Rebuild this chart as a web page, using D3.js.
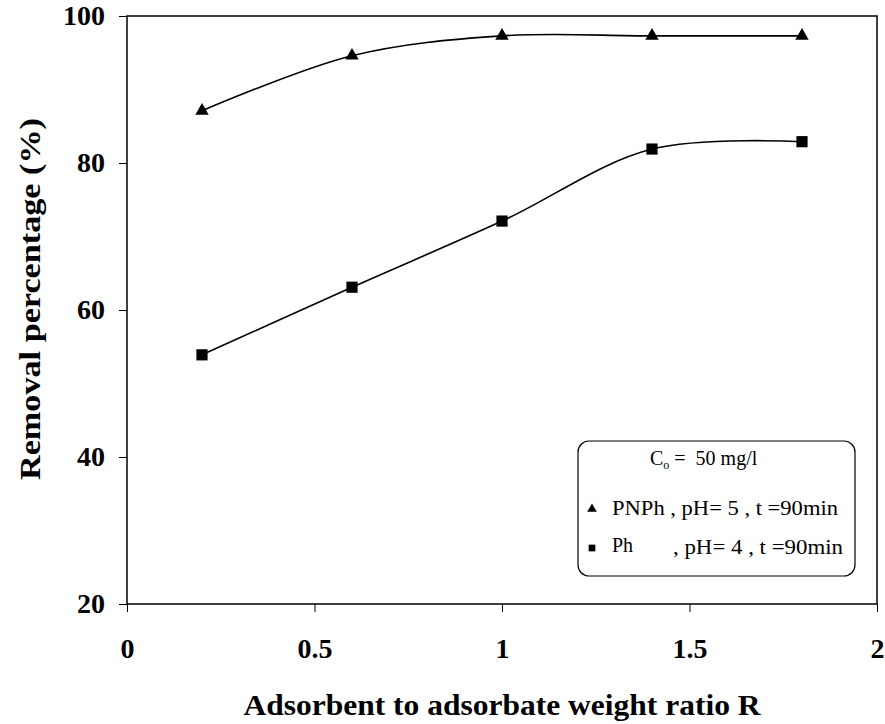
<!DOCTYPE html>
<html>
<head>
<meta charset="utf-8">
<script src="https://cdn.jsdelivr.net/npm/d3@7"></script>
<style>
  body { margin: 0; background: #fff; }
  svg text { font-family: "Liberation Serif", "Times New Roman", Tinos, "DejaVu Serif", serif; }
</style>
</head>
<body>
<div id="plot"></div>
<script>
// data
var ratio = [0.2, 0.6, 1.0, 1.4, 1.8];
var pnph = [87.1, 94.6, 97.3, 97.3, 97.3];
var ph = [53.9, 63.1, 72.1, 81.9, 82.9];
var xTicks = [0, 0.5, 1, 1.5, 2];
var yTicks = [20, 40, 60, 80, 100];

var serif = '"Liberation Serif", "Times New Roman", Tinos, "DejaVu Serif", serif';

var margin = {top: 16, right: 8, bottom: 120, left: 127},
    width = 885 - margin.left - margin.right,
    height = 724 - margin.top - margin.bottom;

var svg = d3.select("div#plot")
  .append("svg")
    .attr("width", 885)
    .attr("height", 724)
  .append("g")
    .attr("transform", "translate(" + margin.left + "," + margin.top + ")");

var x = d3.scaleLinear().domain([0, 2]).range([0, 750]);
var y = d3.scaleLinear().domain([20, 100]).range([588, 0]);

// frame
svg.append("rect")
  .attr("x", 0).attr("y", 0)
  .attr("width", x(2)).attr("height", y(20))
  .attr("fill", "none")
  .attr("stroke", "#000")
  .attr("stroke-width", 1.5);

// x axis
var xAxis = svg.append("g")
  .attr("transform", "translate(0," + y(20) + ")")
  .call(d3.axisBottom(x).tickValues(xTicks).tickSize(8).tickPadding(26)
    .tickFormat(function(d) { return d; }))
  .attr("font-family", serif);
xAxis.select(".domain").remove();
xAxis.selectAll("line").attr("stroke-width", 1);
xAxis.selectAll("text")
  .style("font-family", serif)
  .attr("font-weight", "bold")
  .attr("font-size", 28)
  .attr("fill", "#000");

// y axis
var yAxis = svg.append("g")
  .call(d3.axisLeft(y).tickValues(yTicks).tickSize(8).tickPadding(14))
  .attr("font-family", serif);
yAxis.select(".domain").remove();
yAxis.selectAll("line").attr("stroke-width", 1);
yAxis.selectAll("text")
  .style("font-family", serif)
  .attr("font-weight", "bold")
  .attr("font-size", 28)
  .attr("fill", "#000");

// axis titles
svg.append("text")
  .attr("x", x(1))
  .attr("y", 699)
  .attr("text-anchor", "middle")
  .attr("font-weight", "bold")
  .attr("font-size", 30)
  .attr("textLength", 517)
  .attr("lengthAdjust", "spacingAndGlyphs")
  .text("Adsorbent to adsorbate weight ratio R");

svg.append("text")
  .attr("transform", "translate(" + (40 - margin.left) + "," + (299 - margin.top) + ") rotate(-90)")
  .attr("text-anchor", "middle")
  .attr("font-weight", "bold")
  .attr("font-size", 30)
  .attr("textLength", 362)
  .attr("lengthAdjust", "spacingAndGlyphs")
  .text("Removal percentage (%)");

// smoothed lines
var line = d3.line()
  .x(function(d) { return x(d[0]); })
  .y(function(d) { return y(d[1]); })
  .curve(d3.curveCatmullRom.alpha(0.5));

var series = [
  {values: pnph, symbol: d3.symbolTriangle, size: 78},
  {values: ph, symbol: d3.symbolSquare, size: 125}
];

series.forEach(function(s) {
  var pts = ratio.map(function(r, i) { return [r, s.values[i]]; });
  svg.append("path")
    .datum(pts)
    .attr("d", line)
    .attr("fill", "none")
    .attr("stroke", "#000")
    .attr("stroke-width", 1.6);
  svg.selectAll(null)
    .data(pts)
    .enter().append("path")
    .attr("transform", function(d) { return "translate(" + x(d[0]) + "," + y(d[1]) + ")"; })
    .attr("d", d3.symbol().type(s.symbol).size(s.size))
    .attr("fill", "#000");
});

// legend
var lg = svg.append("g").attr("transform", "translate(" + (578 - margin.left) + "," + (441 - margin.top) + ")");
lg.append("rect")
  .attr("width", 277).attr("height", 135)
  .attr("rx", 11).attr("ry", 11)
  .attr("fill", "#fff")
  .attr("stroke", "#000")
  .attr("stroke-width", 1.2);

var t0 = lg.append("text")
  .attr("x", 72).attr("y", 24)
  .attr("font-size", 20);
t0.append("tspan").text("C");
t0.append("tspan").attr("font-size", 12).attr("dy", 4).text("o");
t0.append("tspan").attr("dy", -4).attr("xml:space", "preserve").text(" =  50 mg/l");

lg.append("path")
  .attr("transform", "translate(14,68)")
  .attr("d", d3.symbol().type(d3.symbolTriangle).size(40))
  .attr("fill", "#000");
lg.append("text")
  .attr("x", 34).attr("y", 74)
  .attr("font-size", 20)
  .attr("textLength", 226)
  .attr("lengthAdjust", "spacingAndGlyphs")
  .text("PNPh , pH= 5 , t =90min");

lg.append("path")
  .attr("transform", "translate(14,107)")
  .attr("d", d3.symbol().type(d3.symbolSquare).size(45))
  .attr("fill", "#000");
lg.append("text")
  .attr("x", 34).attr("y", 111)
  .attr("font-size", 20)
  .text("Ph");
lg.append("text")
  .attr("x", 95).attr("y", 113)
  .attr("font-size", 20)
  .attr("textLength", 170)
  .attr("lengthAdjust", "spacingAndGlyphs")
  .text(", pH= 4 , t =90min");
</script>
</body>
</html>
